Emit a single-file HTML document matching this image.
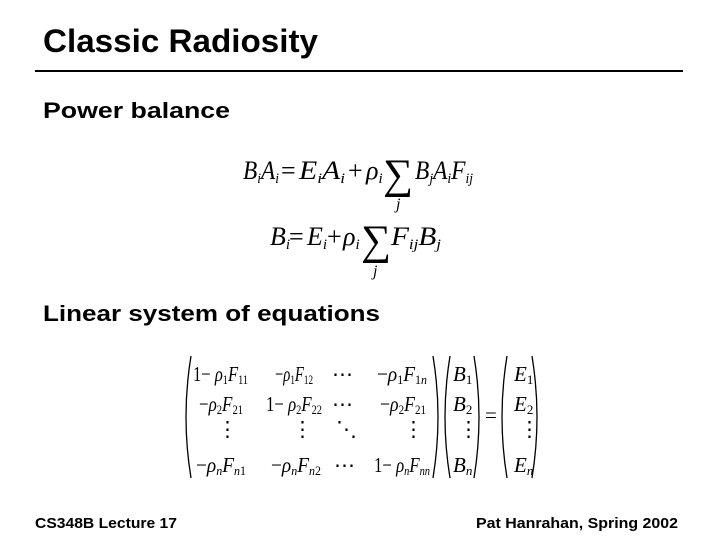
<!DOCTYPE html>
<html><head><meta charset="utf-8"><style>
html,body{margin:0;padding:0;background:#fff}
svg{display:block}
.h{font-family:"Liberation Sans",sans-serif;font-weight:bold}
.m{font-family:"Liberation Serif",serif;font-style:italic}
.r{font-family:"Liberation Serif",serif;font-style:normal}
</style></head><body>
<svg width="720" height="540" viewBox="0 0 720 540" xmlns="http://www.w3.org/2000/svg">
<text class="h" x="43" y="52" font-size="32" textLength="275" lengthAdjust="spacingAndGlyphs">Classic Radiosity</text>
<rect x="35" y="70" width="648" height="2" fill="#000"/>
<text class="h" x="43" y="118" font-size="22" textLength="187" lengthAdjust="spacingAndGlyphs">Power balance</text>
<text class="h" x="43" y="321" font-size="22" textLength="337" lengthAdjust="spacingAndGlyphs">Linear system of equations</text>
<text class="h" x="35" y="528" font-size="15" textLength="142" lengthAdjust="spacingAndGlyphs">CS348B Lecture 17</text>
<text class="h" x="476" y="528" font-size="15" textLength="202" lengthAdjust="spacingAndGlyphs">Pat Hanrahan, Spring 2002</text>

<!-- Eq 1 -->
<g font-size="26">
<text class="m" x="243" y="179" textLength="36" lengthAdjust="spacingAndGlyphs">B<tspan font-size="15" dy="4">i</tspan><tspan dy="-4">A</tspan><tspan font-size="15" dy="4">i</tspan></text>
<text class="r" x="281" y="179">=</text>
<text class="m" x="299" y="179" textLength="46" lengthAdjust="spacingAndGlyphs">E<tspan font-size="15" dy="4">i</tspan><tspan dy="-4">A</tspan><tspan font-size="15" dy="4">i</tspan></text>
<text class="r" x="348" y="179">+</text>
<text class="m" x="366" y="179">ρ<tspan font-size="15" dy="4">i</tspan></text>
<text class="r" x="383" y="188" font-size="42" textLength="30" lengthAdjust="spacingAndGlyphs">∑</text>
<text class="m" x="396" y="209" font-size="16">j</text>
<text class="m" x="415" y="179" textLength="58" lengthAdjust="spacingAndGlyphs">B<tspan font-size="15" dy="4">j</tspan><tspan dy="-4">A</tspan><tspan font-size="15" dy="4">i</tspan><tspan dy="-4">F</tspan><tspan font-size="15" dy="4">ij</tspan></text>
</g>
<!-- Eq 2 -->
<g font-size="26">
<text class="m" x="270" y="245">B<tspan font-size="15" dy="4">i</tspan></text>
<text class="r" x="289" y="245">=</text>
<text class="m" x="307" y="245">E<tspan font-size="15" dy="4">i</tspan></text>
<text class="r" x="327" y="245">+</text>
<text class="m" x="343" y="245">ρ<tspan font-size="15" dy="4">i</tspan></text>
<text class="r" x="361" y="254" font-size="42" textLength="30" lengthAdjust="spacingAndGlyphs">∑</text>
<text class="m" x="373" y="276" font-size="16">j</text>
<text class="m" x="391" y="245" textLength="50" lengthAdjust="spacingAndGlyphs">F<tspan font-size="15" dy="4">ij</tspan><tspan dy="-4">B</tspan><tspan font-size="15" dy="4">j</tspan></text>
</g>

<!-- Matrix -->
<g fill="none" stroke="#000" stroke-width="1.3">
<path d="M191 356 Q181 417 191 478"/>
<path d="M433 356 Q443 417 433 478"/>
<path d="M450 356 Q440 417 450 478"/>
<path d="M474 356 Q484 417 474 478"/>
<path d="M507 356 Q497 417 507 478"/>
<path d="M532 356 Q542 417 532 478"/>
</g>
<g font-size="21">
<text x="193" y="381" textLength="55" lengthAdjust="spacingAndGlyphs"><tspan class="r">1− </tspan><tspan class="m">ρ</tspan><tspan class="r" font-size="13" dy="3">1</tspan><tspan class="m" dy="-3">F</tspan><tspan class="r" font-size="13" dy="3">11</tspan></text>
<text x="275" y="381" textLength="38" lengthAdjust="spacingAndGlyphs"><tspan class="r">−</tspan><tspan class="m">ρ</tspan><tspan class="r" font-size="13" dy="3">1</tspan><tspan class="m" dy="-3">F</tspan><tspan class="r" font-size="13" dy="3">12</tspan></text>
<text class="r" x="332" y="381">⋯</text>
<text x="377" y="381" textLength="50" lengthAdjust="spacingAndGlyphs"><tspan class="r">−</tspan><tspan class="m">ρ</tspan><tspan class="r" font-size="13" dy="3">1</tspan><tspan class="m" dy="-3">F</tspan><tspan class="r" font-size="13" dy="3">1</tspan><tspan class="m" font-size="13">n</tspan></text>

<text x="199" y="411" textLength="44" lengthAdjust="spacingAndGlyphs"><tspan class="r">−</tspan><tspan class="m">ρ</tspan><tspan class="r" font-size="13" dy="3">2</tspan><tspan class="m" dy="-3">F</tspan><tspan class="r" font-size="13" dy="3">21</tspan></text>
<text x="266" y="411" textLength="56" lengthAdjust="spacingAndGlyphs"><tspan class="r">1− </tspan><tspan class="m">ρ</tspan><tspan class="r" font-size="13" dy="3">2</tspan><tspan class="m" dy="-3">F</tspan><tspan class="r" font-size="13" dy="3">22</tspan></text>
<text class="r" x="332" y="411">⋯</text>
<text x="380" y="411" textLength="46" lengthAdjust="spacingAndGlyphs"><tspan class="r">−</tspan><tspan class="m">ρ</tspan><tspan class="r" font-size="13" dy="3">2</tspan><tspan class="m" dy="-3">F</tspan><tspan class="r" font-size="13" dy="3">21</tspan></text>

<text class="r" x="217" y="436">⋮</text>
<text class="r" x="292" y="436">⋮</text>
<text class="r" x="336" y="436">⋱</text>
<text class="r" x="403" y="436">⋮</text>

<text x="196" y="472" textLength="50" lengthAdjust="spacingAndGlyphs"><tspan class="r">−</tspan><tspan class="m">ρ</tspan><tspan class="m" font-size="13" dy="3">n</tspan><tspan class="m" dy="-3">F</tspan><tspan class="m" font-size="13" dy="3">n</tspan><tspan class="r" font-size="13">1</tspan></text>
<text x="271" y="472" textLength="50" lengthAdjust="spacingAndGlyphs"><tspan class="r">−</tspan><tspan class="m">ρ</tspan><tspan class="m" font-size="13" dy="3">n</tspan><tspan class="m" dy="-3">F</tspan><tspan class="m" font-size="13" dy="3">n</tspan><tspan class="r" font-size="13">2</tspan></text>
<text class="r" x="334" y="472">⋯</text>
<text x="374" y="472" textLength="56" lengthAdjust="spacingAndGlyphs"><tspan class="r">1− </tspan><tspan class="m">ρ</tspan><tspan class="m" font-size="13" dy="3">n</tspan><tspan class="m" dy="-3">F</tspan><tspan class="m" font-size="13" dy="3">nn</tspan></text>

<text class="m" x="453" y="381">B<tspan class="r" font-size="13" dy="3">1</tspan></text>
<text class="m" x="453" y="411">B<tspan class="r" font-size="13" dy="3">2</tspan></text>
<text class="r" x="458" y="436">⋮</text>
<text class="m" x="453" y="472">B<tspan class="m" font-size="13" dy="3">n</tspan></text>

<text class="r" x="485" y="422">=</text>

<text class="m" x="514" y="381">E<tspan class="r" font-size="13" dy="3">1</tspan></text>
<text class="m" x="514" y="411">E<tspan class="r" font-size="13" dy="3">2</tspan></text>
<text class="r" x="519" y="436">⋮</text>
<text class="m" x="514" y="472">E<tspan class="m" font-size="13" dy="3">n</tspan></text>
</g>
</svg>
</body></html>
